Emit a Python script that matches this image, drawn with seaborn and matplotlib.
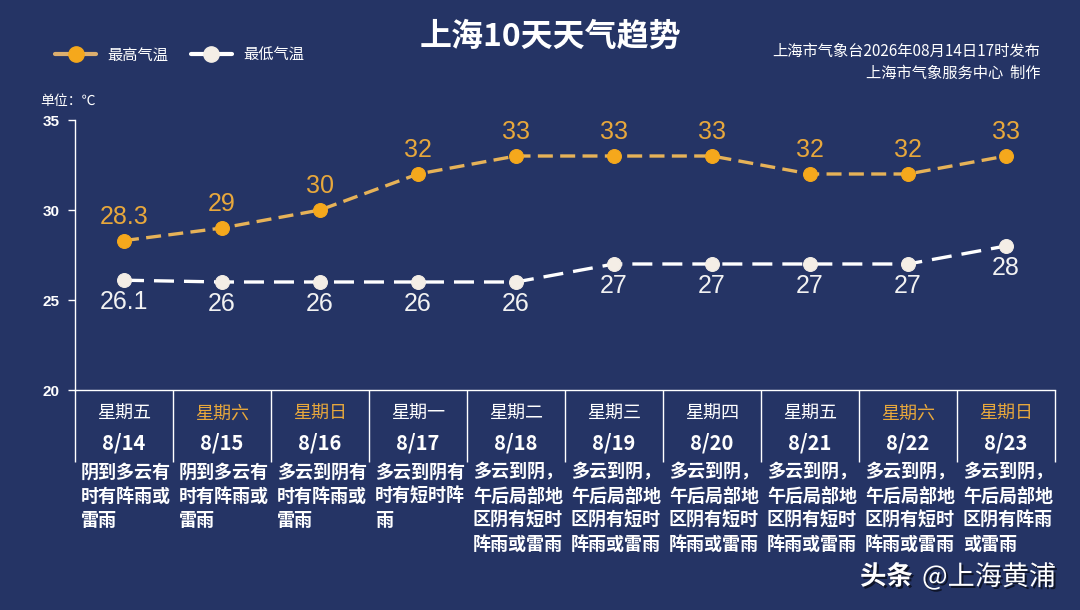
import numpy as np
import pandas as pd
import matplotlib.pyplot as plt
import matplotlib.patheffects as pe
from matplotlib.lines import Line2D
import seaborn as sns

# 数据
dates = ['8/14', '8/15', '8/16', '8/17', '8/18', '8/19', '8/20', '8/21', '8/22', '8/23']
weekdays = ['星期五', '星期六', '星期日', '星期一', '星期二', '星期三', '星期四', '星期五', '星期六', '星期日']
high_temp = [28.3, 29, 30, 32, 33, 33, 33, 32, 32, 33]
low_temp = [26.1, 26, 26, 26, 26, 27, 27, 27, 27, 28]
weather = [
    '阴到多云有时有阵雨或雷雨',
    '阴到多云有时有阵雨或雷雨',
    '多云到阴有时有阵雨或雷雨',
    '多云到阴有时有短时阵雨',
    '多云到阴，午后局部地区阴有短时阵雨或雷雨',
    '多云到阴，午后局部地区阴有短时阵雨或雷雨',
    '多云到阴，午后局部地区阴有短时阵雨或雷雨',
    '多云到阴，午后局部地区阴有短时阵雨或雷雨',
    '多云到阴，午后局部地区阴有短时阵雨或雷雨',
    '多云到阴，午后局部地区阴有阵雨或雷雨',
]
yticks = [20, 25, 30, 35]

df = pd.DataFrame({'day': np.arange(len(dates)), 'high': high_temp, 'low': low_temp})

bg = '#253465'
orange = '#f5a81c'
orange_line = '#e6b258'
orange_text = '#e8a83c'
white_pt = '#f4eee6'

sns.set_theme(style='white')
plt.rcParams['font.family'] = ['Noto Sans CJK SC', 'DejaVu Sans']
num_font = ['Liberation Sans', 'DejaVu Sans']

W, H = 1080, 610
fig = plt.figure(figsize=(W / 100, H / 100), dpi=100, facecolor=bg)
# 绘图区: x 75-1055 px, y 120-390 px
ax = fig.add_axes([75 / W, 1 - 390 / H, 980 / W, 270 / H])
ax.set_facecolor(bg)

sns.lineplot(data=df, x='day', y='high', ax=ax, color=orange_line, lw=2.4,
             linestyle=(0, (4.5, 2.2)), marker='o', markersize=10,
             markerfacecolor=orange, markeredgecolor=orange, zorder=3)
sns.lineplot(data=df, x='day', y='low', ax=ax, color='white', lw=2.4,
             linestyle=(0, (6, 3)), marker='o', markersize=10,
             markerfacecolor=white_pt, markeredgecolor=white_pt, zorder=3)

ax.set_xlim(-0.5, len(dates) - 0.5)
ax.set_ylim(20, 35)
ax.set_xticks([])
ax.set_yticks(yticks)
ax.set_xlabel('')
ax.set_ylabel('')
ax.tick_params(axis='y', colors='white', length=5, width=1, pad=6, left=True)
for lab in ax.get_yticklabels():
    lab.set_fontfamily(num_font)
    lab.set_fontweight('bold')
    lab.set_fontsize(11)
for s in ['top', 'right']:
    ax.spines[s].set_visible(False)
for s in ['left', 'bottom']:
    ax.spines[s].set_color('white')
    ax.spines[s].set_linewidth(1)

# 数值标签
for i, (h, l) in enumerate(zip(high_temp, low_temp)):
    ax.annotate(f'{h:g}', (i, h), xytext=(0, 17), textcoords='offset points',
                ha='center', va='center', color=orange_text, fontsize=18,
                family=num_font)
    ax.annotate(f'{l:g}', (i, l), xytext=(0, -16), textcoords='offset points',
                ha='center', va='center', color='#f2f2f2', fontsize=18,
                family=num_font)


def ypx(p):
    # 像素行 -> 数据 y
    return 20 - (p - 390) / 18.0


# 表格
ax.vlines(np.arange(-0.5, len(dates)), ypx(462), 20, color='white', lw=1, clip_on=False)
for i in range(len(dates)):
    wk_color = orange_text if weekdays[i] in ('星期六', '星期日') else 'white'
    ax.text(i, ypx(414), weekdays[i], ha='center', va='center', color=wk_color,
            fontsize=13, clip_on=False)
    ax.text(i, ypx(443), dates[i], ha='center', va='center', color='white',
            fontsize=14.5, fontweight='bold', clip_on=False)
    txt = weather[i]
    lines = [txt[k:k + 5] for k in range(0, len(txt), 5)]
    for j, line in enumerate(lines):
        ax.text(i - 0.5 + 6 / 98, ypx(472 + 24 * j), line, ha='left', va='center',
                color='white', fontsize=13, fontweight='bold', clip_on=False)

# 标题与说明
fig.text(550 / W, 1 - 37 / H, '上海10天天气趋势', ha='center', va='center',
         color='white', fontsize=23, fontweight='bold')
fig.text(1040 / W, 1 - 51 / H, '上海市气象台2026年08月14日17时发布', ha='right',
         va='center', color='white', fontsize=11)
fig.text(1040 / W, 1 - 73 / H, '上海市气象服务中心  制作', ha='right',
         va='center', color='white', fontsize=11)
fig.text(40 / W, 1 - 101 / H, '单位：℃', ha='left', va='center',
         color='white', fontsize=10)

# 图例
handles = [
    Line2D([0], [0], color='#dcae6e', lw=3, marker='o', markersize=11,
           markerfacecolor=orange, markeredgecolor=orange),
    Line2D([0], [0], color='white', lw=3, marker='o', markersize=11,
           markerfacecolor=white_pt, markeredgecolor=white_pt),
]
leg = fig.legend(handles, ['最高气温', '最低气温'], loc='center left',
                 bbox_to_anchor=(55 / W, 1 - 55 / H), ncol=2, frameon=False,
                 fontsize=11, handlelength=2.7, handletextpad=0.7,
                 columnspacing=1.5, borderpad=0, borderaxespad=0)
for t in leg.get_texts():
    t.set_color('white')

# 水印
shadow = [pe.SimplePatchShadow(offset=(1.5, -1.5), shadow_rgbFace='black', alpha=0.6), pe.Normal()]
fig.text(860 / W, 1 - 577 / H, '头条', ha='left', va='center', color='white',
         fontsize=19, fontweight='bold', path_effects=shadow)
fig.text(922 / W, 1 - 577 / H, '@上海黄浦', ha='left', va='center', color='white',
         fontsize=19.5, path_effects=shadow)

fig.savefig('out.png', dpi=100, facecolor=bg)
